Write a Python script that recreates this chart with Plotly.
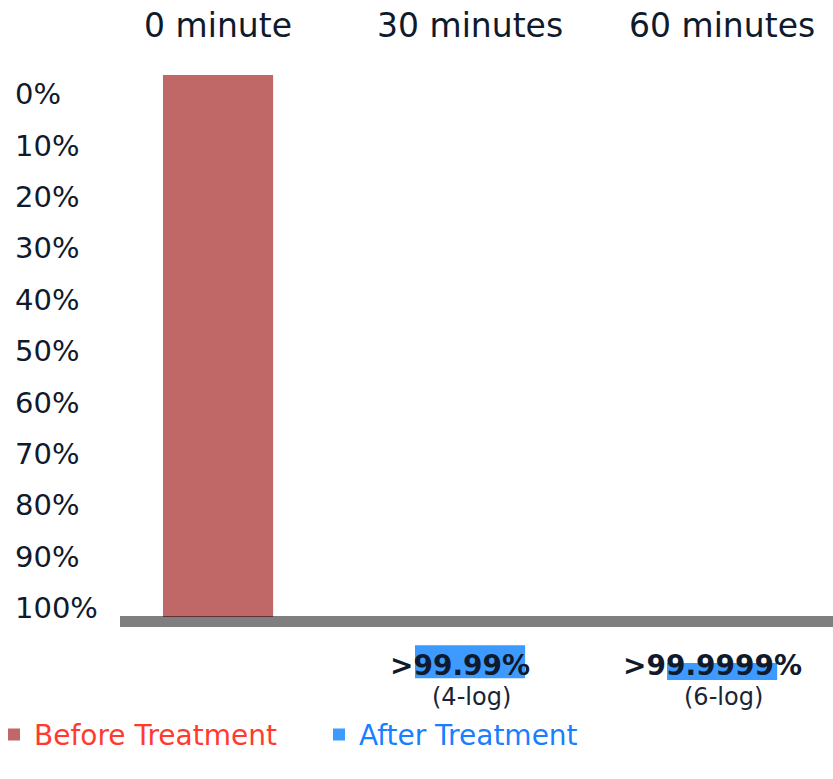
import plotly.graph_objects as go

categories = ["0 minute", "30 minutes", "60 minutes"]
before_vals = [100, None, None]
after_base = [None, 105.2, 108.5]
after_vals = [None, 6.1, 3.1]
after_labels = [None, ">99.99%", ">99.9999%"]
log_labels = [None, "(4-log)", "(6-log)"]
y_ticks = [0, 10, 20, 30, 40, 50, 60, 70, 80, 90, 100]

FONT = "DejaVu Sans"
DARK = "#0f1a2c"

fig = go.Figure()
fig.add_trace(go.Bar(x=categories, y=before_vals, width=0.437,
                     marker=dict(color="#c06868", line=dict(width=0)),
                     name='<span style="color:#ff3b30">Before Treatment</span>'))
fig.add_trace(go.Bar(x=categories, y=after_vals, base=after_base, width=0.437,
                     marker=dict(color="#3d9bff", line=dict(width=0)),
                     name='<span style="color:#1a7fff">After Treatment</span>'))
# invisible trace carrying the percentage label axis
fig.add_trace(go.Scatter(x=categories, y=[None, None, None], yaxis="y2",
                         showlegend=False, hoverinfo="skip"))

for c, a, l in zip(categories, after_labels, log_labels):
    if a is None:
        continue
    fig.add_annotation(x=c, y=108.86, xref="x", yref="y", text="<b>" + a + "</b>",
                       xshift=-10, showarrow=False,
                       font=dict(family=FONT, size=28, color=DARK))
    fig.add_annotation(x=c, y=114.76, xref="x", yref="y", text=l, xshift=1,
                       showarrow=False, font=dict(family=FONT, size=24, color="#1a2436"))

fig.add_shape(type="line", xref="x domain", x0=0, x1=1, yref="y", y0=100.83, y1=100.83,
              line=dict(color="rgba(0,0,0,0.5)", width=11), layer="above")

fig.update_layout(
    width=833, height=779,
    margin=dict(l=11, r=0, t=45, b=81, autoexpand=False),
    plot_bgcolor="white", paper_bgcolor="white",
    barmode="overlay",
    font=dict(family=FONT, color=DARK),
    xaxis=dict(domain=[0.1326, 1], side="top", range=[-0.389, 2.44],
               showgrid=False, zeroline=False, showline=False, ticks="",
               ticklabelstandoff=0, tickfont=dict(size=33, color=DARK)),
    yaxis=dict(range=[114.94, -5.535], visible=False, showgrid=False, zeroline=False),
    yaxis2=dict(overlaying="y", anchor="free", position=0, side="left",
                range=[117.51, -9.53], tickvals=y_ticks,
                ticktext=[f"{v}%" for v in y_ticks],
                ticklabelposition="inside", ticks="", showgrid=False,
                zeroline=False, showline=False,
                tickfont=dict(size=29, color=DARK)),
    showlegend=True,
    legend=dict(orientation="h", x=-0.0207, xanchor="left", y=-0.018, yanchor="top",
                font=dict(family=FONT, size=28), entrywidth=280,
                entrywidthmode="pixels", bgcolor="rgba(0,0,0,0)"),
)

fig.write_html("out.html",
               config={"displayModeBar": False},
               post_script="document.body.style.margin='0';"
                           "document.body.style.overflow='hidden';")
